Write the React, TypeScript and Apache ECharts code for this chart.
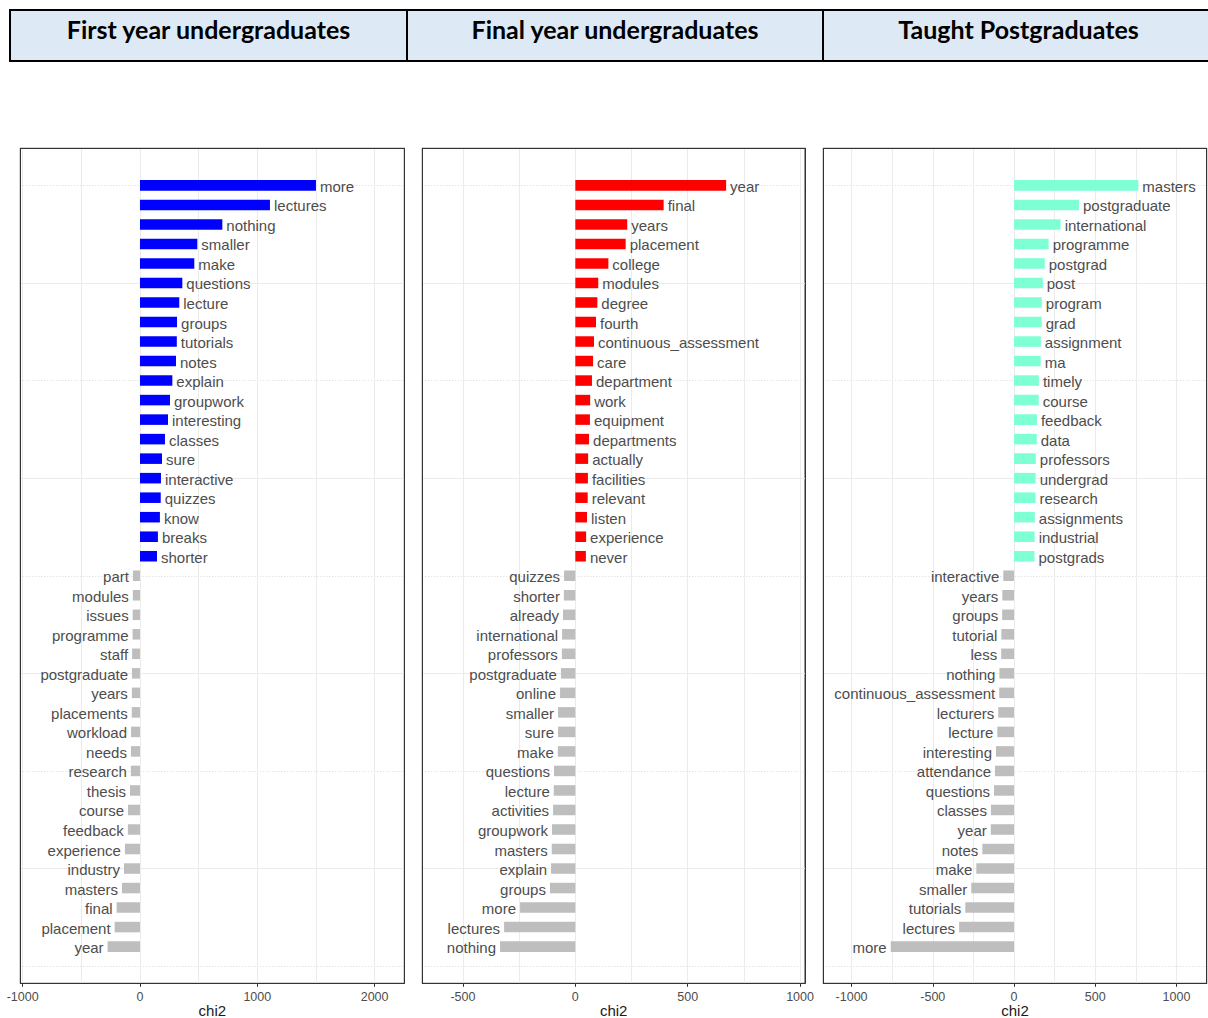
import React, { useEffect, useRef } from "react";
import * as echarts from "echarts";

// ---------- data ----------
const titles = ["First year undergraduates", "Final year undergraduates", "Taught Postgraduates"];

const words1 = [
  "more", "lectures", "nothing", "smaller", "make", "questions", "lecture", "groups", "tutorials", "notes",
  "explain", "groupwork", "interesting", "classes", "sure", "interactive", "quizzes", "know", "breaks", "shorter",
  "part", "modules", "issues", "programme", "staff", "postgraduate", "years", "placements", "workload", "needs",
  "research", "thesis", "course", "feedback", "experience", "industry", "masters", "final", "placement", "year",
];
const values1 = [
  1500, 1108, 702, 489, 463, 361, 335, 316, 314, 307,
  276, 256, 239, 213, 188, 179, 177, 170, 153, 145,
  -60, -61, -62, -63, -67, -68, -69, -70, -76, -77,
  -78, -85, -102, -103, -128, -136, -153, -199, -216, -276,
];

const words2 = [
  "year", "final", "years", "placement", "college", "modules", "degree", "fourth", "continuous_assessment", "care",
  "department", "work", "equipment", "departments", "actually", "facilities", "relevant", "listen", "experience", "never",
  "quizzes", "shorter", "already", "international", "professors", "postgraduate", "online", "smaller", "sure", "make",
  "questions", "lecture", "activities", "groupwork", "masters", "explain", "groups", "more", "lectures", "nothing",
];
const values2 = [
  671, 393, 231, 224, 147, 102, 98, 92, 83, 79,
  74, 66, 65, 61, 57, 56, 55, 52, 48, 47,
  -50, -51, -55, -59, -60, -64, -68, -77, -77, -78,
  -95, -96, -99, -104, -105, -108, -113, -246, -317, -335,
];

const words3 = [
  "masters", "postgraduate", "international", "programme", "postgrad", "post", "program", "grad", "assignment", "ma",
  "timely", "course", "feedback", "data", "professors", "undergrad", "research", "assignments", "industrial", "postgrads",
  "interactive", "years", "groups", "tutorial", "less", "nothing", "continuous_assessment", "lecturers", "lecture", "interesting",
  "attendance", "questions", "classes", "year", "notes", "make", "smaller", "tutorials", "lectures", "more",
];
const values3 = [
  765, 400, 287, 213, 189, 177, 171, 170, 165, 164,
  153, 152, 141, 140, 134, 133, 132, 128, 127, 126,
  -66, -72, -73, -78, -79, -90, -91, -97, -103, -111,
  -117, -123, -142, -143, -195, -232, -263, -300, -338, -759,
];

const panelColors = ["#0000ff", "#ff0000", "#7fffd4"];
const negColor = "#bebebe";
const xRanges = [
  [-1020, 2253],
  [-681, 1022],
  [-1174, 1186],
];
const labelSteps = [1000, 500, 500];
const gridSteps = [500, 250, 250];
const axisTitle = "chi2";

// ---------- layout ----------
const panelBoxes = [
  { left: 20.3, width: 384 },
  { left: 422.3, width: 382.7 },
  { left: 823.3, width: 383.4 },
];
const GRID_TOP = 148.3;
const GRID_H = 835;
const Y_MIN = -0.88;
const Y_MAX = 41.9;
const FONT = '"Liberation Sans", Arial, sans-serif';
const BORDER = { show: true, onZero: false, lineStyle: { color: "#333333", width: 1 } };

export default function App() {
  const ref = useRef<HTMLDivElement>(null);

  useEffect(() => {
    if (!ref.current) return;
    const chart = echarts.init(ref.current, null, { renderer: "svg" });
    const panels = [
      { words: words1, values: values1 },
      { words: words2, values: values2 },
      { words: words3, values: values3 },
    ];

    const grids: any[] = [];
    const xAxes: any[] = [];
    const yAxes: any[] = [];
    const series: any[] = [];

    panels.forEach((p, k) => {
      grids.push({
        left: panelBoxes[k].left,
        top: GRID_TOP,
        width: panelBoxes[k].width,
        height: GRID_H,
        show: true,
        backgroundColor: "#ffffff",
        borderColor: "#333333",
        borderWidth: 1,
        containLabel: false,
        outerBoundsMode: "none",
      });
      // labelled axis (bottom border)
      xAxes.push({
        type: "value",
        gridIndex: k,
        position: "bottom",
        min: xRanges[k][0],
        max: xRanges[k][1],
        minInterval: labelSteps[k],
        maxInterval: labelSteps[k],
        name: axisTitle,
        nameLocation: "middle",
        nameGap: 20,
        nameMoveOverlap: false,
        nameTextStyle: { fontSize: 15, lineHeight: 14, color: "#1a1a1a", fontFamily: FONT },
        axisLine: BORDER,
        axisTick: { show: true, length: 3.5, lineStyle: { color: "#333333", width: 1 } },
        axisLabel: {
          show: true,
          showMinLabel: false,
          showMaxLabel: false,
          margin: 7.5,
          fontSize: 12.5,
          lineHeight: 12.5,
          color: "#4d4d4d",
          fontFamily: FONT,
          formatter: (v: number) => String(v),
        },
        splitLine: { show: false },
      });
      // grid-line axis (top border)
      xAxes.push({
        type: "value",
        gridIndex: k,
        position: "top",
        min: xRanges[k][0],
        max: xRanges[k][1],
        minInterval: gridSteps[k],
        maxInterval: gridSteps[k],
        axisLine: BORDER,
        axisTick: { show: false },
        axisLabel: { show: false },
        splitLine: { show: true, lineStyle: { color: "#ebebeb", width: 1 } },
      });
      // major (dotted) horizontal lines at rows 0,10,20,30,40 (left border)
      yAxes.push({
        type: "value",
        gridIndex: k,
        position: "left",
        min: Y_MIN,
        max: Y_MAX,
        minInterval: 10,
        maxInterval: 10,
        axisLine: BORDER,
        axisTick: { show: false },
        axisLabel: { show: false },
        splitLine: { show: true, lineStyle: { color: "#d9d9d9", width: 1, type: [1, 2] } },
      });
      // minor (solid) horizontal lines at rows 5,15,25,35 (right border)
      yAxes.push({
        type: "value",
        gridIndex: k,
        position: "right",
        min: Y_MIN - 5,
        max: Y_MAX - 5,
        minInterval: 10,
        maxInterval: 10,
        axisLine: BORDER,
        axisTick: { show: false },
        axisLabel: { show: false },
        splitLine: { show: true, lineStyle: { color: "#ebebeb", width: 1 } },
      });

      const n = p.words.length;
      const data = p.values.map((v, i) => [v, n - i]);
      const col = panelColors[k];
      series.push({
        type: "custom",
        xAxisIndex: 2 * k,
        yAxisIndex: 2 * k,
        data,
        clip: false,
        encode: { x: 0, y: 1 },
        renderItem: (params: any, api: any) => {
          const v = api.value(0);
          const r = api.value(1);
          const p0 = api.coord([0, r]);
          const p1 = api.coord([v, r]);
          const h = api.size([0, 0.54])[1];
          const pos = v >= 0;
          const word = p.words[params.dataIndex];
          return {
            type: "group",
            children: [
              {
                type: "rect",
                shape: {
                  x: Math.min(p0[0], p1[0]),
                  y: p0[1] - h / 2,
                  width: Math.abs(p1[0] - p0[0]),
                  height: h,
                },
                style: { fill: pos ? col : negColor },
              },
              {
                type: "text",
                x: pos ? p1[0] + 4 : p1[0] - 4,
                y: p0[1] + 1,
                style: {
                  text: word,
                  fill: "#4d4d4d",
                  font: `15px ${FONT}`,
                  align: pos ? "left" : "right",
                  textAlign: pos ? "left" : "right",
                  verticalAlign: "middle",
                  textVerticalAlign: "middle",
                },
              },
            ],
          };
        },
      });
    });

    // header table
    const cellEdges = [10, 407, 823, 1214];
    const header: any[] = [
      {
        type: "rect",
        shape: { x: 10, y: 10, width: 1204, height: 51 },
        style: { fill: "#dde9f5", stroke: "#000000", lineWidth: 2 },
        z: 10,
      },
    ];
    [407, 823].forEach((x) =>
      header.push({
        type: "line",
        shape: { x1: x, y1: 10, x2: x, y2: 61 },
        style: { stroke: "#000000", lineWidth: 2 },
        z: 11,
      })
    );
    titles.forEach((t, i) =>
      header.push({
        type: "text",
        x: (cellEdges[i] + cellEdges[i + 1]) / 2,
        y: 29,
        style: {
          text: t,
          font: "bold 25px Lato, 'Open Sans', sans-serif",
          fill: "#000000",
          align: "center",
          textAlign: "center",
          verticalAlign: "middle",
          textVerticalAlign: "middle",
        },
        z: 12,
      })
    );

    chart.setOption({
      animation: false,
      backgroundColor: "#ffffff",
      textStyle: { fontFamily: FONT },
      grid: grids,
      xAxis: xAxes,
      yAxis: yAxes,
      series,
      graphic: header,
    });
    return () => chart.dispose();
  }, []);

  return (
    <div
      ref={ref}
      style={{ position: "absolute", left: 0, top: 0, width: 1208, height: 1018 }}
    />
  );
}
